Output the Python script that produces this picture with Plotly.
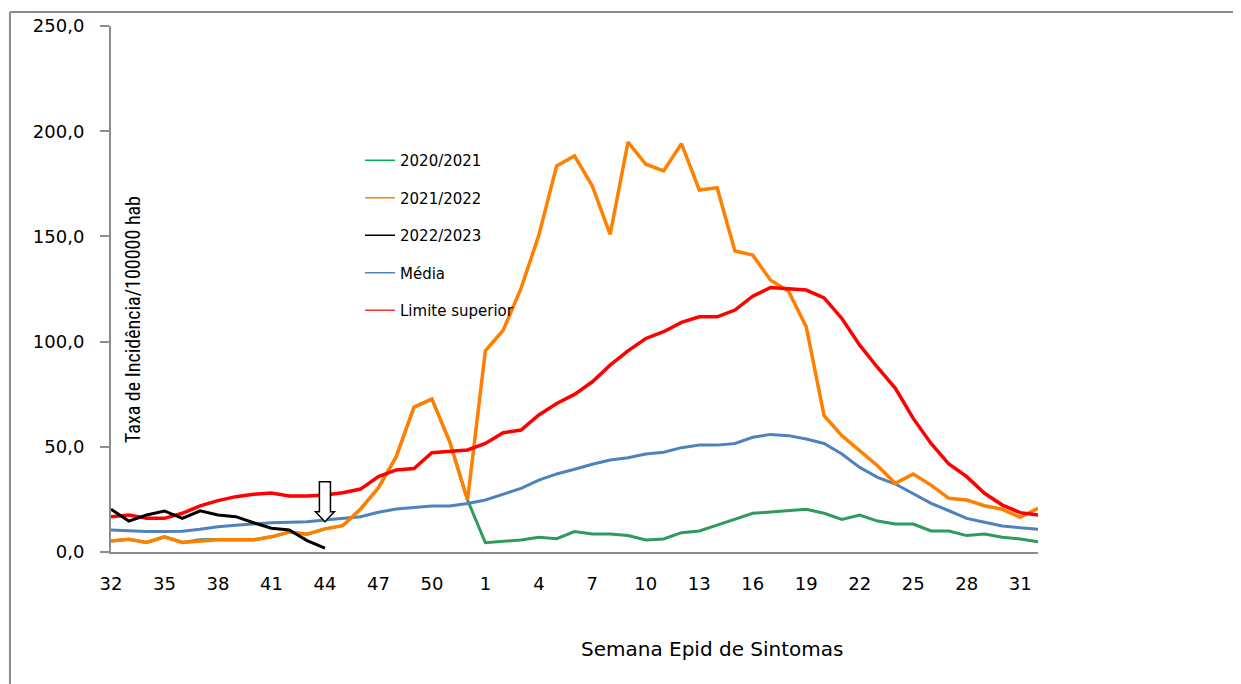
import plotly.graph_objects as go

# Epidemiological weeks (season runs from week 32 to week 32 of the next year)
weeks = [32, 33, 34, 35, 36, 37, 38, 39, 40, 41, 42, 43, 44, 45, 46, 47, 48, 49, 50, 51, 52,
         1, 2, 3, 4, 5, 6, 7, 8, 9, 10, 11, 12, 13, 14, 15, 16, 17, 18, 19, 20,
         21, 22, 23, 24, 25, 26, 27, 28, 29, 30, 31, 32]

s2020_2021 = [5.2, 6.0, 4.5, 7.2, 4.5, 5.8, 6.0, 5.8, 5.8, 7.2, 9.5, 8.5, 11.0, 12.5, 20.4, 30.5, 45.3, 68.9, 72.7, 52.4, 24.7,
              4.4, 4.9, 5.7, 7.0, 6.3, 9.7, 8.6, 8.6, 7.8, 5.7, 6.2, 9.2, 10.0, 12.8, 15.7, 18.4, 19.0, 19.6, 20.3, 18.4,
              15.5, 17.6, 14.7, 13.3, 13.3, 10.0, 10.0, 7.8, 8.6, 7.0, 6.2, 4.9]

s2021_2022 = [5.2, 6.0, 4.5, 7.2, 4.5, 5.3, 5.8, 5.8, 5.8, 7.2, 9.5, 8.5, 11.0, 12.5, 20.4, 30.5, 45.3, 68.9, 72.7, 52.4, 24.7,
              95.6, 105.4, 125.3, 150.6, 183.5, 188.3, 173.9, 150.9, 194.8, 184.3, 181.1, 194.1, 172.0, 173.1, 143.1, 141.1, 129.2, 124.1, 107.0, 64.8,
              55.3, 48.1, 41.0, 32.6, 37.1, 31.8, 25.5, 24.7, 22.0, 20.3, 16.5, 20.8]

s2022_2023 = [20.3, 14.7, 17.6, 19.5, 16.0, 19.6, 17.6, 16.8, 13.9, 11.3, 10.5, 5.4, 1.8]

media = [10.5, 10.0, 9.8, 9.8, 9.9, 10.8, 12.0, 12.7, 13.3, 13.9, 14.1, 14.4, 15.2, 16.0, 16.8, 18.9, 20.4, 21.2, 21.9, 21.9, 23.1,
         24.7, 27.6, 30.2, 34.2, 37.1, 39.3, 41.7, 43.7, 44.8, 46.6, 47.4, 49.6, 50.8, 50.8, 51.6, 54.5, 55.9, 55.3, 53.7, 51.6,
         46.6, 40.2, 35.5, 32.3, 27.6, 23.1, 19.6, 16.0, 14.1, 12.4, 11.5, 10.8]

limite_superior = [16.8, 17.6, 16.0, 16.0, 18.4, 21.9, 24.4, 26.3, 27.4, 28.0, 26.6, 26.6, 27.1, 28.2, 29.9, 35.8, 39.0, 39.7, 47.2, 48.0, 48.5,
                   51.6, 56.7, 58.0, 65.1, 70.6, 74.9, 80.9, 88.8, 95.6, 101.5, 104.7, 109.1, 111.8, 111.8, 115.0, 121.6, 125.7, 124.9, 124.5, 120.8,
                   111.0, 98.3, 87.7, 77.8, 63.5, 51.6, 41.8, 35.8, 27.9, 22.3, 18.7, 17.6]

series_names = ["2020/2021", "2021/2022", "2022/2023", "Média", "Limite superior"]
line_colors = ["#2E9A5C", "#FF8000", "#000000", "#4F81BD", "#FF0000"]
legend_colors = ["#00B050", "#FF8000", "#000000", "#4F81BD", "#FF3333"]
line_widths = [3, 3.5, 3, 3, 3.5]

arrow_week_index = 12  # week 44 of the current season

x_idx = list(range(len(weeks)))
tick_idx = x_idx[::3]
tick_txt = [str(weeks[i]) for i in tick_idx]

all_series = [s2020_2021, s2021_2022, s2022_2023, media, limite_superior]
draw_order = [0, 3, 1, 4, 2]

fig = go.Figure()
for k in draw_order:
    vals = all_series[k]
    fig.add_trace(go.Scatter(
        x=x_idx[:len(vals)], y=vals, mode="lines", showlegend=False,
        line=dict(color=line_colors[k], width=line_widths[k]),
        name=series_names[k], hoverinfo="skip"))

for k, nm in enumerate(series_names):
    fig.add_trace(go.Scatter(
        x=[None], y=[None], mode="lines", name=nm, legendgroup=nm,
        line=dict(color=legend_colors[k], width=1.5)))

# Down arrow marker
cx = arrow_week_index
sw, hw = 0.31, 0.53
y_top, y_neck, y_tip = 33.4, 19.1, 14.4
arrow_path = (f"M {cx-sw},{y_top} L {cx+sw},{y_top} L {cx+sw},{y_neck} L {cx+hw},{y_neck} "
              f"L {cx},{y_tip} L {cx-hw},{y_neck} L {cx-sw},{y_neck} Z")
fig.add_shape(type="path", path=arrow_path, xref="x", yref="y",
              fillcolor="white", line=dict(color="black", width=1.5), layer="above")

# Outer frame (top and left edges)
fig.add_shape(type="line", xref="paper", yref="paper", x0=-0.109, x1=1.25, y0=1.0266, y1=1.0266,
              line=dict(color="#8C8C8C", width=2))
fig.add_shape(type="line", xref="paper", yref="paper", x0=-0.109, x1=-0.109, y0=1.0266, y1=-0.30,
              line=dict(color="#8C8C8C", width=2))

fig.add_annotation(text="Taxa de Incidência/100000 hab", xref="paper", yref="paper",
                   x=(133 - 111) / 927, y=(552 - 320) / 526, textangle=-90,
                   showarrow=False, xanchor="center", yanchor="middle",
                   font=dict(family="Liberation Sans Narrow, Roboto Condensed, Liberation Sans", size=20, color="#000000"))
fig.add_annotation(text="Semana Epid de Sintomas", xref="paper", yref="paper",
                   x=(712 - 111) / 927, y=(552 - 649) / 526,
                   showarrow=False, xanchor="center", yanchor="middle",
                   font=dict(family="DejaVu Sans", size=20, color="#000000"))

fig.update_layout(
    width=1241, height=684,
    margin=dict(l=103, r=211, t=18, b=140, autoexpand=False),
    paper_bgcolor="white", plot_bgcolor="white",
    separators=", ",
    showlegend=True,
    legend=dict(x=(360 - 111) / 927, y=(552 - 144) / 526, xanchor="left", yanchor="top",
                bgcolor="rgba(0,0,0,0)", tracegroupgap=15,
                font=dict(family="DejaVu Sans", size=15, color="#000000")),
    xaxis=dict(range=[0, len(weeks) - 1], tickvals=tick_idx, ticktext=tick_txt, automargin=False,
               showgrid=False, zeroline=False, showline=True, linecolor="#8C8C8C", linewidth=2,
               ticks="", ticklabelstandoff=14,
               tickfont=dict(family="DejaVu Sans", size=18, color="#000000")),
    yaxis=dict(range=[0, 250], tickvals=[0, 50, 100, 150, 200, 250], tickformat=".1f", automargin=False,
               showgrid=False, zeroline=False, showline=True, linecolor="#8C8C8C", linewidth=2,
               ticks="outside", ticklen=9, tickcolor="#8C8C8C", tickwidth=1.5, ticklabelstandoff=12,
               tickfont=dict(family="DejaVu Sans", size=18, color="#000000")),
)

fig.write_html("out.html")
